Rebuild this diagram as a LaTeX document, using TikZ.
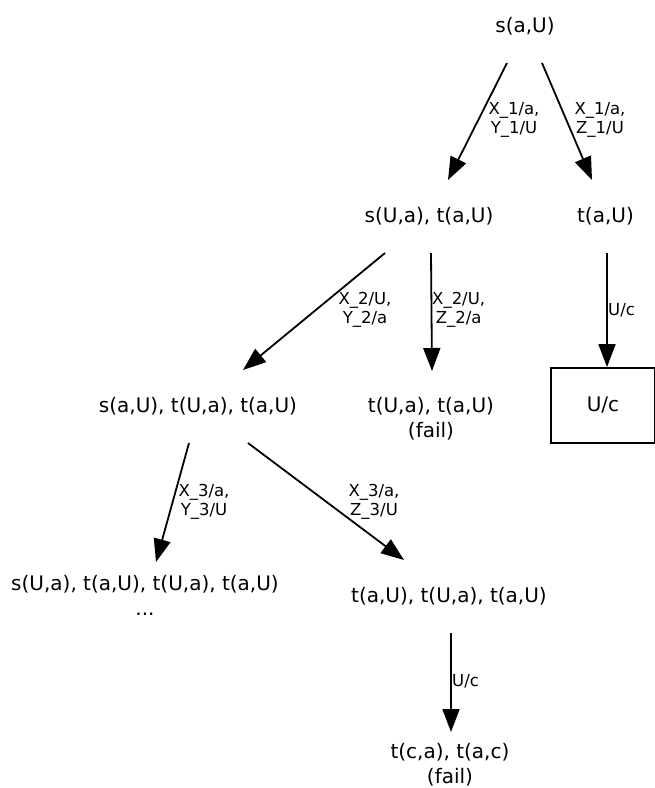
\documentclass[tikz,border=0pt]{standalone}
\usepackage{fontspec}
\setmainfont{DejaVu Sans}
\usetikzlibrary{arrows.meta,positioning}
\definecolor{ink}{RGB}{0,0,0}
\tikzset{
  >={Triangle[length=23pt,width=17pt]},
  state/.style={font=\fontsize{20}{25}\selectfont,text=ink,align=center,
    inner sep=0pt,anchor=north},
  lbl/.style={font=\fontsize{16.5}{19}\selectfont,text=ink,align=center,inner sep=0pt},
  stopbox/.style={draw=ink,line width=1.8pt,minimum width=104pt,minimum height=75pt,
    inner sep=0pt,font=\fontsize{20}{25}\selectfont},
  flow/.style={->,line width=1.8pt,draw=ink},
}

\begin{document}
\begin{tikzpicture}[x=1pt,y=-1pt]
  \useasboundingbox (0,0) rectangle (654,788);
  % states
  \node[state] (top) at (525,16.8) {s(a,U)};
  \node[state] (mid) at (429,206.8) {s(U,a), t(a,U)};
  \node[state] (ra) at (605.5,206.8) {t(a,U)};
  \node[state] (left) at (198,396.8) {s(a,U), t(U,a), t(a,U)};
  \node[state] (fail) at (431,396.8) {t(U,a), t(a,U)\\(fail)};
  \node[stopbox] (box) at (603,405.5) {U/c};
  \node[state] (ll) at (145,574.8) {s(U,a), t(a,U), t(U,a), t(a,U)\\...};
  \node[state] (lr) at (449,586.8) {t(a,U), t(U,a), t(a,U)};
  \node[state] (last) at (450,742.8) {t(c,a), t(a,c)\\(fail)};
  % transitions
  \foreach \a/\p/\b/\q in {top/{-18,46.2}/mid/{19,-26.8},
      top/{17,46.2}/ra/{-13.5,-26.8},
      mid/{-44,46.2}/left/{45,-26.8},
      mid/{2,46.2}/fail/{1,-25.8},
      ra/{1.5,46.2}/box/{4,0},
      left/{-9,46.2}/ll/{11,-12.8},
      left/{50,46.2}/lr/{-45,-26.8},
      lr/{2,46.2}/last/{1,-10.8}}
    \draw[flow] ([shift={(\p)}]\a.north) -- ([shift={(\q)}]\b.north);
  % substitutions
  \node[lbl] (s1) at (514,120) {X\_1/a,\\Y\_1/U};
  \node[lbl] (s2) at (600,120) {X\_1/a,\\Z\_1/U};
  \node[lbl] (s3) at (365,310) {X\_2/U,\\Y\_2/a};
  \node[lbl,anchor=west] (s4) at (432,310) {X\_2/U,\\Z\_2/a};
  \node[lbl,anchor=west] (s5) at (608,310) {U/c};
  \node[lbl] (s6) at (204,502) {X\_3/a,\\Y\_3/U};
  \node[lbl] (s7) at (374,502) {X\_3/a,\\Z\_3/U};
  \node[lbl,anchor=west] (s8) at (452,681) {U/c};
\end{tikzpicture}
\end{document}
